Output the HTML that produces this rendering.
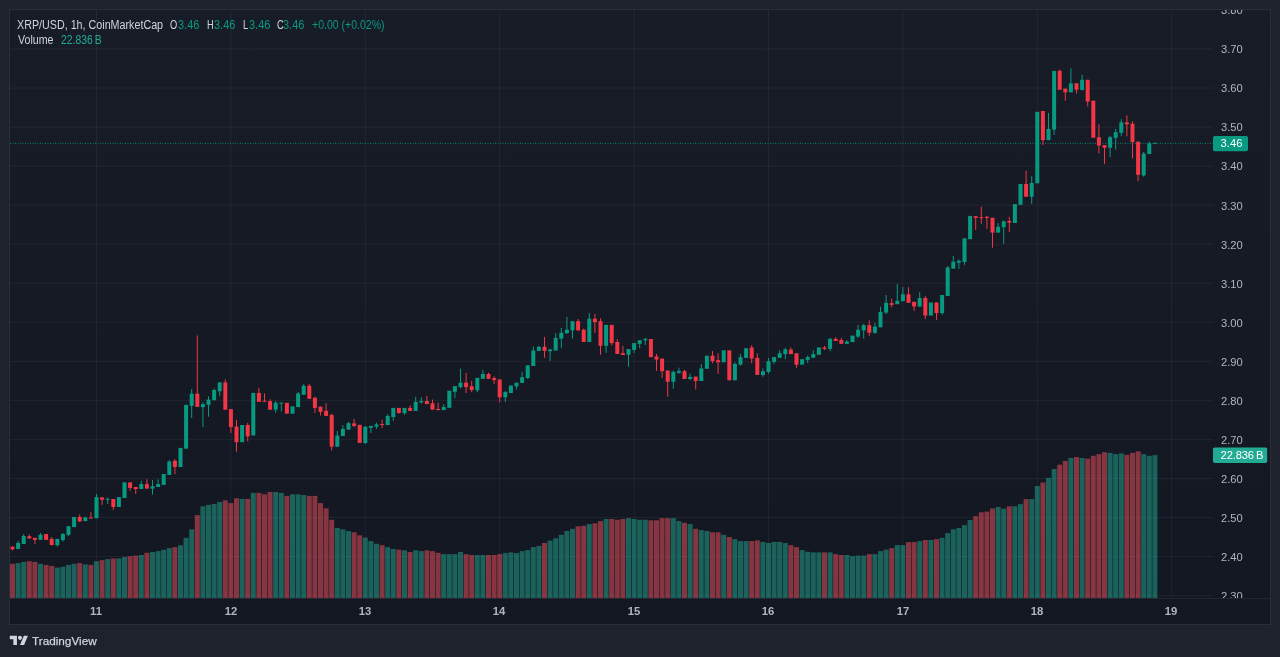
<!DOCTYPE html>
<html><head><meta charset="utf-8"><title>XRP/USD</title>
<style>
html,body{margin:0;padding:0;}
body{width:1280px;height:657px;overflow:hidden;background:#1e222d;font-family:"Liberation Sans",sans-serif;position:relative;}
#frame{position:absolute;left:9px;top:9px;width:1260px;height:614px;border:1px solid #2a2e39;background:linear-gradient(180deg,#181c27 0%,#131722 100%);}
#taxis{position:absolute;left:10px;top:598px;width:1260px;height:26px;border-top:1px solid rgba(240,243,250,0.07);box-sizing:border-box;}
svg{position:absolute;left:0;top:0;}
#paxis{position:absolute;left:1213px;top:10px;width:57px;height:588px;overflow:hidden;}
.pl,.tl,.tag,.lg,#logot{will-change:transform;}
.pl{position:absolute;left:7.7px;height:14px;line-height:14px;font-size:11.2px;color:#b2b5be;white-space:nowrap;}
.tl{position:absolute;top:604.4px;width:40px;text-align:center;height:14px;line-height:14px;font-size:11.3px;font-weight:bold;color:#b2b5be;white-space:nowrap;}
.tag{position:absolute;left:1213px;height:15.5px;line-height:15.6px;color:#fff;font-size:11.2px;border-radius:2px;white-space:nowrap;box-sizing:border-box;padding-left:7.6px;}
.lg{position:absolute;left:17px;height:14px;line-height:14px;font-size:12px;color:#d1d4dc;white-space:nowrap;}
.lg span{position:absolute;top:0;transform-origin:0 50%;}
.lg .k{transform:scaleX(0.773);}
.lg .n{transform:scaleX(0.915);}
.v{color:#089981;}
.v2{color:#22ab94;}
#logo{position:absolute;left:9.4px;top:633.8px;}
#logot{position:absolute;left:31.9px;top:634px;height:14px;line-height:14px;font-size:11.75px;color:#d1d4dc;white-space:nowrap;-webkit-text-stroke:0.25px #d1d4dc;}
</style></head><body>
<div id="frame"></div>
<div id="taxis"></div>
<svg width="1280" height="657" viewBox="0 0 1280 657">
<rect x="10" y="48.5" width="1203" height="1" fill="rgba(240,243,250,0.06)"/>
<rect x="10" y="87.54" width="1203" height="1" fill="rgba(240,243,250,0.06)"/>
<rect x="10" y="126.58" width="1203" height="1" fill="rgba(240,243,250,0.06)"/>
<rect x="10" y="165.62" width="1203" height="1" fill="rgba(240,243,250,0.06)"/>
<rect x="10" y="204.66" width="1203" height="1" fill="rgba(240,243,250,0.06)"/>
<rect x="10" y="243.7" width="1203" height="1" fill="rgba(240,243,250,0.06)"/>
<rect x="10" y="282.74" width="1203" height="1" fill="rgba(240,243,250,0.06)"/>
<rect x="10" y="321.78" width="1203" height="1" fill="rgba(240,243,250,0.06)"/>
<rect x="10" y="360.82" width="1203" height="1" fill="rgba(240,243,250,0.06)"/>
<rect x="10" y="399.86" width="1203" height="1" fill="rgba(240,243,250,0.06)"/>
<rect x="10" y="438.9" width="1203" height="1" fill="rgba(240,243,250,0.06)"/>
<rect x="10" y="477.94" width="1203" height="1" fill="rgba(240,243,250,0.06)"/>
<rect x="10" y="516.98" width="1203" height="1" fill="rgba(240,243,250,0.06)"/>
<rect x="10" y="556.02" width="1203" height="1" fill="rgba(240,243,250,0.06)"/>
<rect x="10" y="595.06" width="1203" height="1" fill="rgba(240,243,250,0.06)"/>
<rect x="96" y="10" width="1" height="588" fill="rgba(240,243,250,0.06)"/>
<rect x="230.4" y="10" width="1" height="588" fill="rgba(240,243,250,0.06)"/>
<rect x="364.8" y="10" width="1" height="588" fill="rgba(240,243,250,0.06)"/>
<rect x="499.2" y="10" width="1" height="588" fill="rgba(240,243,250,0.06)"/>
<rect x="633.6" y="10" width="1" height="588" fill="rgba(240,243,250,0.06)"/>
<rect x="768" y="10" width="1" height="588" fill="rgba(240,243,250,0.06)"/>
<rect x="902.4" y="10" width="1" height="588" fill="rgba(240,243,250,0.06)"/>
<rect x="1036.8" y="10" width="1" height="588" fill="rgba(240,243,250,0.06)"/>
<rect x="1171.2" y="10" width="1" height="588" fill="rgba(240,243,250,0.06)"/>
<rect x="10" y="563.8" width="5" height="34.2" fill="rgba(247,82,95,0.5)"/>
<rect x="15.6" y="563.1" width="5" height="34.9" fill="rgba(34,171,148,0.5)"/>
<rect x="21.2" y="561.9" width="5" height="36.1" fill="rgba(34,171,148,0.5)"/>
<rect x="26.8" y="561.2" width="5" height="36.8" fill="rgba(247,82,95,0.5)"/>
<rect x="32.4" y="561.9" width="5" height="36.1" fill="rgba(247,82,95,0.5)"/>
<rect x="38" y="563.8" width="5" height="34.2" fill="rgba(34,171,148,0.5)"/>
<rect x="43.6" y="564.9" width="5" height="33.1" fill="rgba(247,82,95,0.5)"/>
<rect x="49.2" y="565.9" width="5" height="32.1" fill="rgba(247,82,95,0.5)"/>
<rect x="54.8" y="567.6" width="5" height="30.4" fill="rgba(34,171,148,0.5)"/>
<rect x="60.4" y="566.8" width="5" height="31.2" fill="rgba(34,171,148,0.5)"/>
<rect x="66" y="564.9" width="5" height="33.1" fill="rgba(34,171,148,0.5)"/>
<rect x="71.6" y="563.8" width="5" height="34.2" fill="rgba(34,171,148,0.5)"/>
<rect x="77.2" y="563.1" width="5" height="34.9" fill="rgba(247,82,95,0.5)"/>
<rect x="82.8" y="564.4" width="5" height="33.6" fill="rgba(34,171,148,0.5)"/>
<rect x="88.4" y="564.9" width="5" height="33.1" fill="rgba(247,82,95,0.5)"/>
<rect x="94" y="561.2" width="5" height="36.8" fill="rgba(34,171,148,0.5)"/>
<rect x="99.6" y="560.1" width="5" height="37.9" fill="rgba(247,82,95,0.5)"/>
<rect x="105.2" y="559.1" width="5" height="38.9" fill="rgba(34,171,148,0.5)"/>
<rect x="110.8" y="558.4" width="5" height="39.6" fill="rgba(247,82,95,0.5)"/>
<rect x="116.4" y="558.4" width="5" height="39.6" fill="rgba(34,171,148,0.5)"/>
<rect x="122" y="556.9" width="5" height="41.1" fill="rgba(34,171,148,0.5)"/>
<rect x="127.6" y="556.1" width="5" height="41.9" fill="rgba(247,82,95,0.5)"/>
<rect x="133.2" y="555.6" width="5" height="42.4" fill="rgba(247,82,95,0.5)"/>
<rect x="138.8" y="555" width="5" height="43" fill="rgba(34,171,148,0.5)"/>
<rect x="144.4" y="552.8" width="5" height="45.2" fill="rgba(247,82,95,0.5)"/>
<rect x="150" y="552" width="5" height="46" fill="rgba(34,171,148,0.5)"/>
<rect x="155.6" y="551.1" width="5" height="46.9" fill="rgba(34,171,148,0.5)"/>
<rect x="161.2" y="549.8" width="5" height="48.2" fill="rgba(34,171,148,0.5)"/>
<rect x="166.8" y="548.1" width="5" height="49.9" fill="rgba(34,171,148,0.5)"/>
<rect x="172.4" y="547.1" width="5" height="50.9" fill="rgba(247,82,95,0.5)"/>
<rect x="178" y="545.3" width="5" height="52.7" fill="rgba(34,171,148,0.5)"/>
<rect x="183.6" y="537.8" width="5" height="60.2" fill="rgba(34,171,148,0.5)"/>
<rect x="189.2" y="529.3" width="5" height="68.7" fill="rgba(34,171,148,0.5)"/>
<rect x="194.8" y="515.1" width="5" height="82.9" fill="rgba(247,82,95,0.5)"/>
<rect x="200.4" y="506.3" width="5" height="91.7" fill="rgba(34,171,148,0.5)"/>
<rect x="206" y="504.9" width="5" height="93.1" fill="rgba(34,171,148,0.5)"/>
<rect x="211.6" y="504" width="5" height="94" fill="rgba(34,171,148,0.5)"/>
<rect x="217.2" y="501.9" width="5" height="96.1" fill="rgba(34,171,148,0.5)"/>
<rect x="222.8" y="500.3" width="5" height="97.7" fill="rgba(247,82,95,0.5)"/>
<rect x="228.4" y="503.1" width="5" height="94.9" fill="rgba(247,82,95,0.5)"/>
<rect x="234" y="498.2" width="5" height="99.8" fill="rgba(247,82,95,0.5)"/>
<rect x="239.6" y="498.9" width="5" height="99.1" fill="rgba(34,171,148,0.5)"/>
<rect x="245.2" y="498.9" width="5" height="99.1" fill="rgba(247,82,95,0.5)"/>
<rect x="250.8" y="492.9" width="5" height="105.1" fill="rgba(34,171,148,0.5)"/>
<rect x="256.4" y="492.9" width="5" height="105.1" fill="rgba(247,82,95,0.5)"/>
<rect x="262" y="494.3" width="5" height="103.7" fill="rgba(247,82,95,0.5)"/>
<rect x="267.6" y="492" width="5" height="106" fill="rgba(247,82,95,0.5)"/>
<rect x="273.2" y="492" width="5" height="106" fill="rgba(34,171,148,0.5)"/>
<rect x="278.8" y="492.9" width="5" height="105.1" fill="rgba(34,171,148,0.5)"/>
<rect x="284.4" y="495.9" width="5" height="102.1" fill="rgba(247,82,95,0.5)"/>
<rect x="290" y="494.3" width="5" height="103.7" fill="rgba(34,171,148,0.5)"/>
<rect x="295.6" y="494.3" width="5" height="103.7" fill="rgba(34,171,148,0.5)"/>
<rect x="301.2" y="495" width="5" height="103" fill="rgba(34,171,148,0.5)"/>
<rect x="306.8" y="495.9" width="5" height="102.1" fill="rgba(247,82,95,0.5)"/>
<rect x="312.4" y="495.9" width="5" height="102.1" fill="rgba(247,82,95,0.5)"/>
<rect x="318" y="503.1" width="5" height="94.9" fill="rgba(247,82,95,0.5)"/>
<rect x="323.6" y="508.3" width="5" height="89.7" fill="rgba(247,82,95,0.5)"/>
<rect x="329.2" y="519.8" width="5" height="78.2" fill="rgba(247,82,95,0.5)"/>
<rect x="334.8" y="528" width="5" height="70" fill="rgba(34,171,148,0.5)"/>
<rect x="340.4" y="529.3" width="5" height="68.7" fill="rgba(34,171,148,0.5)"/>
<rect x="346" y="531" width="5" height="67" fill="rgba(34,171,148,0.5)"/>
<rect x="351.6" y="532.3" width="5" height="65.7" fill="rgba(247,82,95,0.5)"/>
<rect x="357.2" y="535.3" width="5" height="62.7" fill="rgba(247,82,95,0.5)"/>
<rect x="362.8" y="537.6" width="5" height="60.4" fill="rgba(34,171,148,0.5)"/>
<rect x="368.4" y="541.1" width="5" height="56.9" fill="rgba(34,171,148,0.5)"/>
<rect x="374" y="543.8" width="5" height="54.2" fill="rgba(34,171,148,0.5)"/>
<rect x="379.6" y="545.1" width="5" height="52.9" fill="rgba(247,82,95,0.5)"/>
<rect x="385.2" y="547.1" width="5" height="50.9" fill="rgba(34,171,148,0.5)"/>
<rect x="390.8" y="549" width="5" height="49" fill="rgba(34,171,148,0.5)"/>
<rect x="396.4" y="549.6" width="5" height="48.4" fill="rgba(247,82,95,0.5)"/>
<rect x="402" y="550.3" width="5" height="47.7" fill="rgba(34,171,148,0.5)"/>
<rect x="407.6" y="552" width="5" height="46" fill="rgba(247,82,95,0.5)"/>
<rect x="413.2" y="550.3" width="5" height="47.7" fill="rgba(34,171,148,0.5)"/>
<rect x="418.8" y="551.1" width="5" height="46.9" fill="rgba(34,171,148,0.5)"/>
<rect x="424.4" y="550.3" width="5" height="47.7" fill="rgba(247,82,95,0.5)"/>
<rect x="430" y="551.1" width="5" height="46.9" fill="rgba(247,82,95,0.5)"/>
<rect x="435.6" y="552.8" width="5" height="45.2" fill="rgba(247,82,95,0.5)"/>
<rect x="441.2" y="554.1" width="5" height="43.9" fill="rgba(34,171,148,0.5)"/>
<rect x="446.8" y="554.1" width="5" height="43.9" fill="rgba(34,171,148,0.5)"/>
<rect x="452.4" y="554.1" width="5" height="43.9" fill="rgba(34,171,148,0.5)"/>
<rect x="458" y="552" width="5" height="46" fill="rgba(34,171,148,0.5)"/>
<rect x="463.6" y="554.1" width="5" height="43.9" fill="rgba(247,82,95,0.5)"/>
<rect x="469.2" y="555" width="5" height="43" fill="rgba(247,82,95,0.5)"/>
<rect x="474.8" y="555" width="5" height="43" fill="rgba(34,171,148,0.5)"/>
<rect x="480.4" y="555" width="5" height="43" fill="rgba(34,171,148,0.5)"/>
<rect x="486" y="555" width="5" height="43" fill="rgba(247,82,95,0.5)"/>
<rect x="491.6" y="555" width="5" height="43" fill="rgba(247,82,95,0.5)"/>
<rect x="497.2" y="554.1" width="5" height="43.9" fill="rgba(247,82,95,0.5)"/>
<rect x="502.8" y="553.1" width="5" height="44.9" fill="rgba(34,171,148,0.5)"/>
<rect x="508.4" y="552.4" width="5" height="45.6" fill="rgba(34,171,148,0.5)"/>
<rect x="514" y="553.1" width="5" height="44.9" fill="rgba(34,171,148,0.5)"/>
<rect x="519.6" y="551.1" width="5" height="46.9" fill="rgba(34,171,148,0.5)"/>
<rect x="525.2" y="550.1" width="5" height="47.9" fill="rgba(34,171,148,0.5)"/>
<rect x="530.8" y="547.1" width="5" height="50.9" fill="rgba(34,171,148,0.5)"/>
<rect x="536.4" y="546" width="5" height="52" fill="rgba(34,171,148,0.5)"/>
<rect x="542" y="543" width="5" height="55" fill="rgba(247,82,95,0.5)"/>
<rect x="547.6" y="540.6" width="5" height="57.4" fill="rgba(34,171,148,0.5)"/>
<rect x="553.2" y="538.3" width="5" height="59.7" fill="rgba(34,171,148,0.5)"/>
<rect x="558.8" y="534.8" width="5" height="63.2" fill="rgba(34,171,148,0.5)"/>
<rect x="564.4" y="531" width="5" height="67" fill="rgba(34,171,148,0.5)"/>
<rect x="570" y="528.8" width="5" height="69.2" fill="rgba(34,171,148,0.5)"/>
<rect x="575.6" y="526.3" width="5" height="71.7" fill="rgba(247,82,95,0.5)"/>
<rect x="581.2" y="525.8" width="5" height="72.2" fill="rgba(247,82,95,0.5)"/>
<rect x="586.8" y="524.1" width="5" height="73.9" fill="rgba(34,171,148,0.5)"/>
<rect x="592.4" y="523.3" width="5" height="74.7" fill="rgba(247,82,95,0.5)"/>
<rect x="598" y="521.1" width="5" height="76.9" fill="rgba(247,82,95,0.5)"/>
<rect x="603.6" y="519" width="5" height="79" fill="rgba(34,171,148,0.5)"/>
<rect x="609.2" y="519" width="5" height="79" fill="rgba(247,82,95,0.5)"/>
<rect x="614.8" y="519.8" width="5" height="78.2" fill="rgba(247,82,95,0.5)"/>
<rect x="620.4" y="519" width="5" height="79" fill="rgba(247,82,95,0.5)"/>
<rect x="626" y="518.1" width="5" height="79.9" fill="rgba(34,171,148,0.5)"/>
<rect x="631.6" y="519" width="5" height="79" fill="rgba(34,171,148,0.5)"/>
<rect x="637.2" y="519.8" width="5" height="78.2" fill="rgba(34,171,148,0.5)"/>
<rect x="642.8" y="519.8" width="5" height="78.2" fill="rgba(34,171,148,0.5)"/>
<rect x="648.4" y="520.3" width="5" height="77.7" fill="rgba(247,82,95,0.5)"/>
<rect x="654" y="520.3" width="5" height="77.7" fill="rgba(247,82,95,0.5)"/>
<rect x="659.6" y="518.1" width="5" height="79.9" fill="rgba(247,82,95,0.5)"/>
<rect x="665.2" y="518.1" width="5" height="79.9" fill="rgba(247,82,95,0.5)"/>
<rect x="670.8" y="518.1" width="5" height="79.9" fill="rgba(34,171,148,0.5)"/>
<rect x="676.4" y="521.1" width="5" height="76.9" fill="rgba(34,171,148,0.5)"/>
<rect x="682" y="522.8" width="5" height="75.2" fill="rgba(247,82,95,0.5)"/>
<rect x="687.6" y="524.1" width="5" height="73.9" fill="rgba(34,171,148,0.5)"/>
<rect x="693.2" y="528.8" width="5" height="69.2" fill="rgba(247,82,95,0.5)"/>
<rect x="698.8" y="530.1" width="5" height="67.9" fill="rgba(34,171,148,0.5)"/>
<rect x="704.4" y="531" width="5" height="67" fill="rgba(34,171,148,0.5)"/>
<rect x="710" y="532.3" width="5" height="65.7" fill="rgba(247,82,95,0.5)"/>
<rect x="715.6" y="532.3" width="5" height="65.7" fill="rgba(247,82,95,0.5)"/>
<rect x="721.2" y="534.8" width="5" height="63.2" fill="rgba(34,171,148,0.5)"/>
<rect x="726.8" y="537" width="5" height="61" fill="rgba(247,82,95,0.5)"/>
<rect x="732.4" y="539.1" width="5" height="58.9" fill="rgba(34,171,148,0.5)"/>
<rect x="738" y="541.1" width="5" height="56.9" fill="rgba(34,171,148,0.5)"/>
<rect x="743.6" y="541.1" width="5" height="56.9" fill="rgba(34,171,148,0.5)"/>
<rect x="749.2" y="541.1" width="5" height="56.9" fill="rgba(247,82,95,0.5)"/>
<rect x="754.8" y="540.4" width="5" height="57.6" fill="rgba(247,82,95,0.5)"/>
<rect x="760.4" y="541.9" width="5" height="56.1" fill="rgba(34,171,148,0.5)"/>
<rect x="766" y="543" width="5" height="55" fill="rgba(34,171,148,0.5)"/>
<rect x="771.6" y="541.9" width="5" height="56.1" fill="rgba(34,171,148,0.5)"/>
<rect x="777.2" y="541.9" width="5" height="56.1" fill="rgba(34,171,148,0.5)"/>
<rect x="782.8" y="543" width="5" height="55" fill="rgba(34,171,148,0.5)"/>
<rect x="788.4" y="545.1" width="5" height="52.9" fill="rgba(247,82,95,0.5)"/>
<rect x="794" y="547.1" width="5" height="50.9" fill="rgba(247,82,95,0.5)"/>
<rect x="799.6" y="550.1" width="5" height="47.9" fill="rgba(34,171,148,0.5)"/>
<rect x="805.2" y="551.8" width="5" height="46.2" fill="rgba(34,171,148,0.5)"/>
<rect x="810.8" y="552.4" width="5" height="45.6" fill="rgba(34,171,148,0.5)"/>
<rect x="816.4" y="552.4" width="5" height="45.6" fill="rgba(34,171,148,0.5)"/>
<rect x="822" y="552.4" width="5" height="45.6" fill="rgba(247,82,95,0.5)"/>
<rect x="827.6" y="552.4" width="5" height="45.6" fill="rgba(34,171,148,0.5)"/>
<rect x="833.2" y="554.1" width="5" height="43.9" fill="rgba(247,82,95,0.5)"/>
<rect x="838.8" y="555" width="5" height="43" fill="rgba(247,82,95,0.5)"/>
<rect x="844.4" y="555" width="5" height="43" fill="rgba(34,171,148,0.5)"/>
<rect x="850" y="556.1" width="5" height="41.9" fill="rgba(34,171,148,0.5)"/>
<rect x="855.6" y="555.6" width="5" height="42.4" fill="rgba(34,171,148,0.5)"/>
<rect x="861.2" y="555.6" width="5" height="42.4" fill="rgba(34,171,148,0.5)"/>
<rect x="866.8" y="554.1" width="5" height="43.9" fill="rgba(247,82,95,0.5)"/>
<rect x="872.4" y="554.1" width="5" height="43.9" fill="rgba(34,171,148,0.5)"/>
<rect x="878" y="551.1" width="5" height="46.9" fill="rgba(34,171,148,0.5)"/>
<rect x="883.6" y="549.6" width="5" height="48.4" fill="rgba(34,171,148,0.5)"/>
<rect x="889.2" y="548.1" width="5" height="49.9" fill="rgba(247,82,95,0.5)"/>
<rect x="894.8" y="545.1" width="5" height="52.9" fill="rgba(34,171,148,0.5)"/>
<rect x="900.4" y="545.1" width="5" height="52.9" fill="rgba(34,171,148,0.5)"/>
<rect x="906" y="542.1" width="5" height="55.9" fill="rgba(247,82,95,0.5)"/>
<rect x="911.6" y="542.1" width="5" height="55.9" fill="rgba(247,82,95,0.5)"/>
<rect x="917.2" y="541.1" width="5" height="56.9" fill="rgba(34,171,148,0.5)"/>
<rect x="922.8" y="540" width="5" height="58" fill="rgba(247,82,95,0.5)"/>
<rect x="928.4" y="540" width="5" height="58" fill="rgba(34,171,148,0.5)"/>
<rect x="934" y="539.1" width="5" height="58.9" fill="rgba(247,82,95,0.5)"/>
<rect x="939.6" y="537.8" width="5" height="60.2" fill="rgba(34,171,148,0.5)"/>
<rect x="945.2" y="533.1" width="5" height="64.9" fill="rgba(34,171,148,0.5)"/>
<rect x="950.8" y="529.3" width="5" height="68.7" fill="rgba(34,171,148,0.5)"/>
<rect x="956.4" y="528" width="5" height="70" fill="rgba(34,171,148,0.5)"/>
<rect x="962" y="525.1" width="5" height="72.9" fill="rgba(34,171,148,0.5)"/>
<rect x="967.6" y="520" width="5" height="78" fill="rgba(34,171,148,0.5)"/>
<rect x="973.2" y="516.2" width="5" height="81.8" fill="rgba(247,82,95,0.5)"/>
<rect x="978.8" y="512.3" width="5" height="85.7" fill="rgba(247,82,95,0.5)"/>
<rect x="984.4" y="511.6" width="5" height="86.4" fill="rgba(247,82,95,0.5)"/>
<rect x="990" y="508.5" width="5" height="89.5" fill="rgba(247,82,95,0.5)"/>
<rect x="995.6" y="507" width="5" height="91" fill="rgba(34,171,148,0.5)"/>
<rect x="1001.2" y="508.7" width="5" height="89.3" fill="rgba(34,171,148,0.5)"/>
<rect x="1006.8" y="506.3" width="5" height="91.7" fill="rgba(247,82,95,0.5)"/>
<rect x="1012.4" y="506.3" width="5" height="91.7" fill="rgba(34,171,148,0.5)"/>
<rect x="1018" y="504.1" width="5" height="93.9" fill="rgba(34,171,148,0.5)"/>
<rect x="1023.6" y="499.1" width="5" height="98.9" fill="rgba(247,82,95,0.5)"/>
<rect x="1029.2" y="499.1" width="5" height="98.9" fill="rgba(34,171,148,0.5)"/>
<rect x="1034.8" y="486.1" width="5" height="111.9" fill="rgba(34,171,148,0.5)"/>
<rect x="1040.4" y="482.5" width="5" height="115.5" fill="rgba(247,82,95,0.5)"/>
<rect x="1046" y="477.9" width="5" height="120.1" fill="rgba(34,171,148,0.5)"/>
<rect x="1051.6" y="469" width="5" height="129" fill="rgba(34,171,148,0.5)"/>
<rect x="1057.2" y="464.7" width="5" height="133.3" fill="rgba(247,82,95,0.5)"/>
<rect x="1062.8" y="460.9" width="5" height="137.1" fill="rgba(247,82,95,0.5)"/>
<rect x="1068.4" y="458" width="5" height="140" fill="rgba(34,171,148,0.5)"/>
<rect x="1074" y="457" width="5" height="141" fill="rgba(247,82,95,0.5)"/>
<rect x="1079.6" y="458" width="5" height="140" fill="rgba(34,171,148,0.5)"/>
<rect x="1085.2" y="458.7" width="5" height="139.3" fill="rgba(247,82,95,0.5)"/>
<rect x="1090.8" y="455.8" width="5" height="142.2" fill="rgba(247,82,95,0.5)"/>
<rect x="1096.4" y="454.1" width="5" height="143.9" fill="rgba(247,82,95,0.5)"/>
<rect x="1102" y="452.2" width="5" height="145.8" fill="rgba(247,82,95,0.5)"/>
<rect x="1107.6" y="452.9" width="5" height="145.1" fill="rgba(34,171,148,0.5)"/>
<rect x="1113.2" y="454.1" width="5" height="143.9" fill="rgba(34,171,148,0.5)"/>
<rect x="1118.8" y="453.4" width="5" height="144.6" fill="rgba(34,171,148,0.5)"/>
<rect x="1124.4" y="454.9" width="5" height="143.1" fill="rgba(247,82,95,0.5)"/>
<rect x="1130" y="452.9" width="5" height="145.1" fill="rgba(247,82,95,0.5)"/>
<rect x="1135.6" y="451.3" width="5" height="146.7" fill="rgba(247,82,95,0.5)"/>
<rect x="1141.2" y="454.1" width="5" height="143.9" fill="rgba(34,171,148,0.5)"/>
<rect x="1146.8" y="455.8" width="5" height="142.2" fill="rgba(34,171,148,0.5)"/>
<rect x="1152.4" y="455.1" width="5" height="142.9" fill="rgba(34,171,148,0.5)"/>
<line x1="10" y1="143.3" x2="1213" y2="143.3" stroke="#089981" stroke-width="1" stroke-dasharray="1 1.5" opacity="0.85"/>
<rect x="12" y="546.7" width="1" height="3.8" fill="#f23645"/>
<rect x="10.5" y="546.7" width="4" height="2.5" fill="#f23645"/>
<rect x="17.6" y="540.8" width="1" height="8.2" fill="#089981"/>
<rect x="16.1" y="543" width="4" height="6" fill="#089981"/>
<rect x="23.2" y="534.1" width="1" height="9.9" fill="#089981"/>
<rect x="21.7" y="536" width="4" height="8" fill="#089981"/>
<rect x="28.8" y="534.4" width="1" height="4.1" fill="#f23645"/>
<rect x="27.3" y="536.2" width="4" height="2.3" fill="#f23645"/>
<rect x="34.4" y="537.8" width="1" height="6.2" fill="#f23645"/>
<rect x="32.9" y="537.8" width="4" height="2.1" fill="#f23645"/>
<rect x="40" y="533" width="1" height="6.9" fill="#089981"/>
<rect x="38.5" y="534.7" width="4" height="5.2" fill="#089981"/>
<rect x="44.1" y="534" width="4" height="5.9" fill="#f23645"/>
<rect x="51.2" y="537.1" width="1" height="8" fill="#f23645"/>
<rect x="49.7" y="538.9" width="4" height="6.2" fill="#f23645"/>
<rect x="56.8" y="538.9" width="1" height="7.8" fill="#089981"/>
<rect x="55.3" y="538.9" width="4" height="6.2" fill="#089981"/>
<rect x="62.4" y="533" width="1" height="8.5" fill="#089981"/>
<rect x="60.9" y="534" width="4" height="6.1" fill="#089981"/>
<rect x="68" y="526.2" width="1" height="10" fill="#089981"/>
<rect x="66.5" y="526.2" width="4" height="8.6" fill="#089981"/>
<rect x="72.1" y="517" width="4" height="10.1" fill="#089981"/>
<rect x="79.2" y="514.5" width="1" height="7.5" fill="#f23645"/>
<rect x="77.7" y="517" width="4" height="4.4" fill="#f23645"/>
<rect x="84.8" y="516.6" width="1" height="4.5" fill="#089981"/>
<rect x="83.3" y="517.5" width="4" height="3.6" fill="#089981"/>
<rect x="90.4" y="512.2" width="1" height="6.2" fill="#f23645"/>
<rect x="88.9" y="517.5" width="4" height="1" fill="#f23645"/>
<rect x="96" y="494" width="1" height="24.2" fill="#089981"/>
<rect x="94.5" y="497.1" width="4" height="21.1" fill="#089981"/>
<rect x="101.6" y="497.4" width="1" height="7.5" fill="#f23645"/>
<rect x="100.1" y="497.4" width="4" height="2.3" fill="#f23645"/>
<rect x="107.2" y="497.4" width="1" height="6.6" fill="#089981"/>
<rect x="105.7" y="498.8" width="4" height="1" fill="#089981"/>
<rect x="112.8" y="499" width="1" height="11" fill="#f23645"/>
<rect x="111.3" y="499" width="4" height="8" fill="#f23645"/>
<rect x="116.9" y="497.1" width="4" height="9.9" fill="#089981"/>
<rect x="122.5" y="482.3" width="4" height="15.7" fill="#089981"/>
<rect x="129.6" y="482.4" width="1" height="8.3" fill="#f23645"/>
<rect x="128.1" y="482.4" width="4" height="5.5" fill="#f23645"/>
<rect x="135.2" y="487" width="1" height="6.9" fill="#f23645"/>
<rect x="133.7" y="487" width="4" height="2.1" fill="#f23645"/>
<rect x="140.8" y="480.8" width="1" height="8.2" fill="#089981"/>
<rect x="139.3" y="484.1" width="4" height="4.9" fill="#089981"/>
<rect x="146.4" y="479.3" width="1" height="9.3" fill="#f23645"/>
<rect x="144.9" y="484.1" width="4" height="4.5" fill="#f23645"/>
<rect x="152" y="480" width="1" height="14.5" fill="#089981"/>
<rect x="150.5" y="486.3" width="4" height="2.3" fill="#089981"/>
<rect x="157.6" y="479.3" width="1" height="7.7" fill="#089981"/>
<rect x="156.1" y="484.1" width="4" height="2.9" fill="#089981"/>
<rect x="161.7" y="474" width="4" height="10.9" fill="#089981"/>
<rect x="168.8" y="460.1" width="1" height="14.8" fill="#089981"/>
<rect x="167.3" y="461.6" width="4" height="13.3" fill="#089981"/>
<rect x="174.4" y="459.2" width="1" height="15" fill="#f23645"/>
<rect x="172.9" y="460.8" width="4" height="6.2" fill="#f23645"/>
<rect x="178.5" y="447.9" width="4" height="19.1" fill="#089981"/>
<rect x="184.1" y="404.8" width="4" height="43.9" fill="#089981"/>
<rect x="191.2" y="389" width="1" height="29" fill="#089981"/>
<rect x="189.7" y="393.7" width="4" height="12.1" fill="#089981"/>
<rect x="196.8" y="335.5" width="1" height="71.3" fill="#f23645"/>
<rect x="195.3" y="393.7" width="4" height="13.1" fill="#f23645"/>
<rect x="202.4" y="402.2" width="1" height="24.8" fill="#089981"/>
<rect x="200.9" y="404.2" width="4" height="3" fill="#089981"/>
<rect x="208" y="396.3" width="1" height="20.4" fill="#089981"/>
<rect x="206.5" y="399.6" width="4" height="5.2" fill="#089981"/>
<rect x="213.6" y="388.4" width="1" height="11.8" fill="#089981"/>
<rect x="212.1" y="390" width="4" height="10.2" fill="#089981"/>
<rect x="219.2" y="382.4" width="1" height="13.9" fill="#089981"/>
<rect x="217.7" y="382.4" width="4" height="8.9" fill="#089981"/>
<rect x="224.8" y="379.5" width="1" height="30.2" fill="#f23645"/>
<rect x="223.3" y="382.4" width="4" height="27.3" fill="#f23645"/>
<rect x="230.4" y="409.1" width="1" height="23.8" fill="#f23645"/>
<rect x="228.9" y="409.1" width="4" height="17.9" fill="#f23645"/>
<rect x="236" y="420" width="1" height="31.7" fill="#f23645"/>
<rect x="234.5" y="426.6" width="4" height="15.6" fill="#f23645"/>
<rect x="240.1" y="425" width="4" height="17.2" fill="#089981"/>
<rect x="247.2" y="423" width="1" height="18.4" fill="#f23645"/>
<rect x="245.7" y="425" width="4" height="11.3" fill="#f23645"/>
<rect x="251.3" y="392.9" width="4" height="42.6" fill="#089981"/>
<rect x="258.4" y="387.8" width="1" height="14" fill="#f23645"/>
<rect x="256.9" y="392.9" width="4" height="8.9" fill="#f23645"/>
<rect x="264" y="393.3" width="1" height="8.3" fill="#f23645"/>
<rect x="262.5" y="400.8" width="4" height="1" fill="#f23645"/>
<rect x="269.6" y="399.3" width="1" height="10.4" fill="#f23645"/>
<rect x="268.1" y="401.2" width="4" height="8.5" fill="#f23645"/>
<rect x="275.2" y="400.8" width="1" height="11.9" fill="#089981"/>
<rect x="273.7" y="402.8" width="4" height="6.9" fill="#089981"/>
<rect x="280.8" y="402.6" width="1" height="8.9" fill="#089981"/>
<rect x="279.3" y="402.6" width="4" height="1" fill="#089981"/>
<rect x="284.9" y="402.8" width="4" height="10.9" fill="#f23645"/>
<rect x="290.5" y="406.4" width="4" height="7.3" fill="#089981"/>
<rect x="297.6" y="392" width="1" height="15.1" fill="#089981"/>
<rect x="296.1" y="393.5" width="4" height="13.6" fill="#089981"/>
<rect x="303.2" y="384.1" width="1" height="10.6" fill="#089981"/>
<rect x="301.7" y="385.8" width="4" height="8.9" fill="#089981"/>
<rect x="308.8" y="384" width="1" height="14.8" fill="#f23645"/>
<rect x="307.3" y="385.8" width="4" height="13" fill="#f23645"/>
<rect x="314.4" y="396.7" width="1" height="16.2" fill="#f23645"/>
<rect x="312.9" y="397.8" width="4" height="10.1" fill="#f23645"/>
<rect x="320" y="406.7" width="1" height="8.8" fill="#f23645"/>
<rect x="318.5" y="406.7" width="4" height="5.1" fill="#f23645"/>
<rect x="325.6" y="403.2" width="1" height="12.7" fill="#f23645"/>
<rect x="324.1" y="410.8" width="4" height="5.1" fill="#f23645"/>
<rect x="331.2" y="413.8" width="1" height="36.7" fill="#f23645"/>
<rect x="329.7" y="414.9" width="4" height="31.8" fill="#f23645"/>
<rect x="336.8" y="431" width="1" height="15.7" fill="#089981"/>
<rect x="335.3" y="435.5" width="4" height="11.2" fill="#089981"/>
<rect x="342.4" y="425.1" width="1" height="10.9" fill="#089981"/>
<rect x="340.9" y="428.9" width="4" height="7.1" fill="#089981"/>
<rect x="348" y="421.8" width="1" height="7.8" fill="#089981"/>
<rect x="346.5" y="423.2" width="4" height="6.4" fill="#089981"/>
<rect x="353.6" y="418.9" width="1" height="8.4" fill="#f23645"/>
<rect x="352.1" y="423.4" width="4" height="2.5" fill="#f23645"/>
<rect x="357.7" y="424.8" width="4" height="18.1" fill="#f23645"/>
<rect x="364.8" y="425.9" width="1" height="18.1" fill="#089981"/>
<rect x="363.3" y="426.8" width="4" height="16.2" fill="#089981"/>
<rect x="370.4" y="425.9" width="1" height="7.1" fill="#089981"/>
<rect x="368.9" y="425.9" width="4" height="1.9" fill="#089981"/>
<rect x="376" y="422.7" width="1" height="6.2" fill="#089981"/>
<rect x="374.5" y="424.4" width="4" height="2.2" fill="#089981"/>
<rect x="381.6" y="419.7" width="1" height="8.5" fill="#f23645"/>
<rect x="380.1" y="424.1" width="4" height="1" fill="#f23645"/>
<rect x="387.2" y="414.2" width="1" height="10.9" fill="#089981"/>
<rect x="385.7" y="415.9" width="4" height="9.2" fill="#089981"/>
<rect x="392.8" y="407.9" width="1" height="13.1" fill="#089981"/>
<rect x="391.3" y="407.9" width="4" height="9.1" fill="#089981"/>
<rect x="398.4" y="407.9" width="1" height="5.9" fill="#f23645"/>
<rect x="396.9" y="407.9" width="4" height="5" fill="#f23645"/>
<rect x="404" y="407.9" width="1" height="7" fill="#089981"/>
<rect x="402.5" y="407.9" width="4" height="5.3" fill="#089981"/>
<rect x="409.6" y="405.5" width="1" height="5.4" fill="#f23645"/>
<rect x="408.1" y="407.9" width="4" height="3" fill="#f23645"/>
<rect x="415.2" y="396.8" width="1" height="14.1" fill="#089981"/>
<rect x="413.7" y="401.9" width="4" height="9" fill="#089981"/>
<rect x="420.8" y="397.3" width="1" height="6.4" fill="#089981"/>
<rect x="419.3" y="401" width="4" height="1.3" fill="#089981"/>
<rect x="426.4" y="395.9" width="1" height="8.2" fill="#f23645"/>
<rect x="424.9" y="401" width="4" height="3.1" fill="#f23645"/>
<rect x="432" y="399.6" width="1" height="10" fill="#f23645"/>
<rect x="430.5" y="403.3" width="4" height="6.3" fill="#f23645"/>
<rect x="437.6" y="402.7" width="1" height="7.4" fill="#f23645"/>
<rect x="436.1" y="408.9" width="4" height="1.2" fill="#f23645"/>
<rect x="443.2" y="404.1" width="1" height="6" fill="#089981"/>
<rect x="441.7" y="407.1" width="4" height="3" fill="#089981"/>
<rect x="447.3" y="390.7" width="4" height="17.1" fill="#089981"/>
<rect x="454.4" y="386.2" width="1" height="12" fill="#089981"/>
<rect x="452.9" y="386.2" width="4" height="5.6" fill="#089981"/>
<rect x="460" y="368.8" width="1" height="19.8" fill="#089981"/>
<rect x="458.5" y="382.7" width="4" height="4.3" fill="#089981"/>
<rect x="465.6" y="372.9" width="1" height="20.1" fill="#f23645"/>
<rect x="464.1" y="382.7" width="4" height="4.3" fill="#f23645"/>
<rect x="471.2" y="380.8" width="1" height="11.3" fill="#f23645"/>
<rect x="469.7" y="386.2" width="4" height="3.8" fill="#f23645"/>
<rect x="476.8" y="377.9" width="1" height="14.4" fill="#089981"/>
<rect x="475.3" y="377.9" width="4" height="12.4" fill="#089981"/>
<rect x="482.4" y="369.9" width="1" height="8.9" fill="#089981"/>
<rect x="480.9" y="374" width="4" height="4.8" fill="#089981"/>
<rect x="488" y="372.6" width="1" height="6.2" fill="#f23645"/>
<rect x="486.5" y="374" width="4" height="4.8" fill="#f23645"/>
<rect x="493.6" y="376.3" width="1" height="7.8" fill="#f23645"/>
<rect x="492.1" y="378.1" width="4" height="2" fill="#f23645"/>
<rect x="499.2" y="379.5" width="1" height="22.8" fill="#f23645"/>
<rect x="497.7" y="379.5" width="4" height="17.8" fill="#f23645"/>
<rect x="504.8" y="391" width="1" height="11.1" fill="#089981"/>
<rect x="503.3" y="392.1" width="4" height="5.2" fill="#089981"/>
<rect x="508.9" y="385.5" width="4" height="7.5" fill="#089981"/>
<rect x="516" y="382.7" width="1" height="6.6" fill="#089981"/>
<rect x="514.5" y="382.7" width="4" height="3.6" fill="#089981"/>
<rect x="521.6" y="371.9" width="1" height="11" fill="#089981"/>
<rect x="520.1" y="377.3" width="4" height="5.6" fill="#089981"/>
<rect x="527.2" y="365.3" width="1" height="13.7" fill="#089981"/>
<rect x="525.7" y="365.3" width="4" height="12.7" fill="#089981"/>
<rect x="532.8" y="346.7" width="1" height="19.3" fill="#089981"/>
<rect x="531.3" y="350.6" width="4" height="15.4" fill="#089981"/>
<rect x="538.4" y="345.8" width="1" height="5.1" fill="#089981"/>
<rect x="536.9" y="346.8" width="4" height="4.1" fill="#089981"/>
<rect x="544" y="336.9" width="1" height="20.8" fill="#f23645"/>
<rect x="542.5" y="346.8" width="4" height="4.1" fill="#f23645"/>
<rect x="549.6" y="348.8" width="1" height="12.1" fill="#089981"/>
<rect x="548.1" y="349.5" width="4" height="1.7" fill="#089981"/>
<rect x="555.2" y="333.1" width="1" height="17.4" fill="#089981"/>
<rect x="553.7" y="337.9" width="4" height="12.6" fill="#089981"/>
<rect x="560.8" y="328" width="1" height="20.2" fill="#089981"/>
<rect x="559.3" y="332.8" width="4" height="5.8" fill="#089981"/>
<rect x="566.4" y="316.9" width="1" height="17.1" fill="#089981"/>
<rect x="564.9" y="329.7" width="4" height="3.4" fill="#089981"/>
<rect x="572" y="321.2" width="1" height="17.4" fill="#089981"/>
<rect x="570.5" y="321.2" width="4" height="9.1" fill="#089981"/>
<rect x="577.6" y="319" width="1" height="12" fill="#f23645"/>
<rect x="576.1" y="321.2" width="4" height="9.1" fill="#f23645"/>
<rect x="583.2" y="328.6" width="1" height="13.4" fill="#f23645"/>
<rect x="581.7" y="329.7" width="4" height="12.3" fill="#f23645"/>
<rect x="588.8" y="312.9" width="1" height="29.1" fill="#089981"/>
<rect x="587.3" y="318.7" width="4" height="23.3" fill="#089981"/>
<rect x="594.4" y="313.9" width="1" height="18.9" fill="#f23645"/>
<rect x="592.9" y="318.7" width="4" height="3.4" fill="#f23645"/>
<rect x="600" y="318.3" width="1" height="36.4" fill="#f23645"/>
<rect x="598.5" y="321.2" width="4" height="24.6" fill="#f23645"/>
<rect x="605.6" y="324.9" width="1" height="27.8" fill="#089981"/>
<rect x="604.1" y="324.9" width="4" height="20.9" fill="#089981"/>
<rect x="611.2" y="324.9" width="1" height="20.2" fill="#f23645"/>
<rect x="609.7" y="324.9" width="4" height="18.2" fill="#f23645"/>
<rect x="616.8" y="339.2" width="1" height="14.8" fill="#f23645"/>
<rect x="615.3" y="342" width="4" height="12" fill="#f23645"/>
<rect x="622.4" y="345.8" width="1" height="9.2" fill="#f23645"/>
<rect x="620.9" y="353.2" width="4" height="1.8" fill="#f23645"/>
<rect x="628" y="349.1" width="1" height="17.8" fill="#089981"/>
<rect x="626.5" y="349.1" width="4" height="5.6" fill="#089981"/>
<rect x="633.6" y="343.1" width="1" height="9.8" fill="#089981"/>
<rect x="632.1" y="343.1" width="4" height="6.8" fill="#089981"/>
<rect x="639.2" y="340.2" width="1" height="8" fill="#089981"/>
<rect x="637.7" y="340.2" width="4" height="3.6" fill="#089981"/>
<rect x="644.8" y="337.9" width="1" height="7.2" fill="#089981"/>
<rect x="643.3" y="338.9" width="4" height="1.4" fill="#089981"/>
<rect x="648.9" y="339" width="4" height="18.2" fill="#f23645"/>
<rect x="656" y="354" width="1" height="16.9" fill="#f23645"/>
<rect x="654.5" y="356.5" width="4" height="3" fill="#f23645"/>
<rect x="661.6" y="358.6" width="1" height="19.4" fill="#f23645"/>
<rect x="660.1" y="358.6" width="4" height="12.6" fill="#f23645"/>
<rect x="667.2" y="370.5" width="1" height="26.4" fill="#f23645"/>
<rect x="665.7" y="370.5" width="4" height="11.3" fill="#f23645"/>
<rect x="672.8" y="370.5" width="1" height="18.2" fill="#089981"/>
<rect x="671.3" y="371.8" width="4" height="10" fill="#089981"/>
<rect x="678.4" y="367.7" width="1" height="6.2" fill="#089981"/>
<rect x="676.9" y="370.9" width="4" height="1.9" fill="#089981"/>
<rect x="684" y="369.8" width="1" height="9.2" fill="#f23645"/>
<rect x="682.5" y="371.2" width="4" height="7.8" fill="#f23645"/>
<rect x="689.6" y="373.6" width="1" height="6.5" fill="#089981"/>
<rect x="688.1" y="376.9" width="4" height="2.1" fill="#089981"/>
<rect x="695.2" y="376.6" width="1" height="12.8" fill="#f23645"/>
<rect x="693.7" y="376.6" width="4" height="4.4" fill="#f23645"/>
<rect x="700.8" y="364" width="1" height="17" fill="#089981"/>
<rect x="699.3" y="368.4" width="4" height="12.6" fill="#089981"/>
<rect x="704.9" y="355.7" width="4" height="13.1" fill="#089981"/>
<rect x="712" y="351" width="1" height="12.2" fill="#f23645"/>
<rect x="710.5" y="355.7" width="4" height="5.5" fill="#f23645"/>
<rect x="717.6" y="353.4" width="1" height="20.5" fill="#f23645"/>
<rect x="716.1" y="360.2" width="4" height="2.1" fill="#f23645"/>
<rect x="721.7" y="350.3" width="4" height="12" fill="#089981"/>
<rect x="727.3" y="350.3" width="4" height="30" fill="#f23645"/>
<rect x="734.4" y="362.3" width="1" height="18" fill="#089981"/>
<rect x="732.9" y="363.9" width="4" height="16.4" fill="#089981"/>
<rect x="740" y="354" width="1" height="11.7" fill="#089981"/>
<rect x="738.5" y="357.2" width="4" height="7.4" fill="#089981"/>
<rect x="744.1" y="348.2" width="4" height="9.7" fill="#089981"/>
<rect x="751.2" y="345.1" width="1" height="18.1" fill="#f23645"/>
<rect x="749.7" y="347.5" width="4" height="11.1" fill="#f23645"/>
<rect x="756.8" y="353.4" width="1" height="21.5" fill="#f23645"/>
<rect x="755.3" y="357.9" width="4" height="17" fill="#f23645"/>
<rect x="762.4" y="368.4" width="1" height="8.2" fill="#089981"/>
<rect x="760.9" y="371.3" width="4" height="3.7" fill="#089981"/>
<rect x="768" y="358" width="1" height="15.6" fill="#089981"/>
<rect x="766.5" y="361.2" width="4" height="10.8" fill="#089981"/>
<rect x="773.6" y="357.1" width="1" height="6.9" fill="#089981"/>
<rect x="772.1" y="357.1" width="4" height="4.7" fill="#089981"/>
<rect x="779.2" y="350.3" width="1" height="7.5" fill="#089981"/>
<rect x="777.7" y="353.3" width="4" height="4.5" fill="#089981"/>
<rect x="784.8" y="347.9" width="1" height="11.3" fill="#089981"/>
<rect x="783.3" y="349.3" width="4" height="4.8" fill="#089981"/>
<rect x="790.4" y="347.5" width="1" height="6.6" fill="#f23645"/>
<rect x="788.9" y="349.6" width="4" height="4.5" fill="#f23645"/>
<rect x="796" y="353.3" width="1" height="14.5" fill="#f23645"/>
<rect x="794.5" y="353.3" width="4" height="11.4" fill="#f23645"/>
<rect x="800.1" y="359.2" width="4" height="5.5" fill="#089981"/>
<rect x="807.2" y="355.5" width="1" height="7.5" fill="#089981"/>
<rect x="805.7" y="357.1" width="4" height="2.8" fill="#089981"/>
<rect x="812.8" y="350.3" width="1" height="7.5" fill="#089981"/>
<rect x="811.3" y="354.1" width="4" height="3.7" fill="#089981"/>
<rect x="816.9" y="347.5" width="4" height="7.3" fill="#089981"/>
<rect x="824" y="345.9" width="1" height="4.1" fill="#f23645"/>
<rect x="822.5" y="347.5" width="4" height="1.4" fill="#f23645"/>
<rect x="829.6" y="337.7" width="1" height="13.5" fill="#089981"/>
<rect x="828.1" y="338.9" width="4" height="10" fill="#089981"/>
<rect x="835.2" y="337" width="1" height="4" fill="#f23645"/>
<rect x="833.7" y="339" width="4" height="2" fill="#f23645"/>
<rect x="840.8" y="337.9" width="1" height="5.9" fill="#f23645"/>
<rect x="839.3" y="340" width="4" height="3.8" fill="#f23645"/>
<rect x="846.4" y="340.3" width="1" height="3.5" fill="#089981"/>
<rect x="844.9" y="341.6" width="4" height="2.2" fill="#089981"/>
<rect x="850.5" y="335.6" width="4" height="6.5" fill="#089981"/>
<rect x="857.6" y="324.9" width="1" height="13" fill="#089981"/>
<rect x="856.1" y="329.7" width="4" height="6.9" fill="#089981"/>
<rect x="863.2" y="323.8" width="1" height="14.8" fill="#089981"/>
<rect x="861.7" y="325.2" width="4" height="5.2" fill="#089981"/>
<rect x="868.8" y="320.4" width="1" height="15.5" fill="#f23645"/>
<rect x="867.3" y="325.2" width="4" height="7.5" fill="#f23645"/>
<rect x="874.4" y="322.9" width="1" height="10.9" fill="#089981"/>
<rect x="872.9" y="326.6" width="4" height="6.3" fill="#089981"/>
<rect x="880" y="306.8" width="1" height="20.5" fill="#089981"/>
<rect x="878.5" y="311.9" width="4" height="15.4" fill="#089981"/>
<rect x="885.6" y="295" width="1" height="19" fill="#089981"/>
<rect x="884.1" y="302.9" width="4" height="9.7" fill="#089981"/>
<rect x="891.2" y="298.7" width="1" height="8.6" fill="#f23645"/>
<rect x="889.7" y="303.1" width="4" height="1.8" fill="#f23645"/>
<rect x="896.8" y="284" width="1" height="20.2" fill="#089981"/>
<rect x="895.3" y="300.8" width="4" height="3.4" fill="#089981"/>
<rect x="902.4" y="287.1" width="1" height="14.1" fill="#089981"/>
<rect x="900.9" y="294.3" width="4" height="6.9" fill="#089981"/>
<rect x="908" y="287.1" width="1" height="15.7" fill="#f23645"/>
<rect x="906.5" y="294.3" width="4" height="8.5" fill="#f23645"/>
<rect x="913.6" y="301.8" width="1" height="9.2" fill="#f23645"/>
<rect x="912.1" y="301.8" width="4" height="4.7" fill="#f23645"/>
<rect x="919.2" y="292.1" width="1" height="14.5" fill="#089981"/>
<rect x="917.7" y="298" width="4" height="8.6" fill="#089981"/>
<rect x="924.8" y="296" width="1" height="23" fill="#f23645"/>
<rect x="923.3" y="298" width="4" height="17.5" fill="#f23645"/>
<rect x="928.9" y="302.5" width="4" height="13" fill="#089981"/>
<rect x="936" y="302.5" width="1" height="17.4" fill="#f23645"/>
<rect x="934.5" y="302.5" width="4" height="10.6" fill="#f23645"/>
<rect x="941.6" y="295" width="1" height="19.7" fill="#089981"/>
<rect x="940.1" y="295" width="4" height="18.1" fill="#089981"/>
<rect x="947.2" y="266.1" width="1" height="29.9" fill="#089981"/>
<rect x="945.7" y="267.5" width="4" height="28.5" fill="#089981"/>
<rect x="952.8" y="255.8" width="1" height="12.8" fill="#089981"/>
<rect x="951.3" y="261.7" width="4" height="6.9" fill="#089981"/>
<rect x="958.4" y="259.4" width="1" height="9.6" fill="#089981"/>
<rect x="956.9" y="260.8" width="4" height="1.9" fill="#089981"/>
<rect x="964" y="238.4" width="1" height="26.5" fill="#089981"/>
<rect x="962.5" y="238.4" width="4" height="23.6" fill="#089981"/>
<rect x="968.1" y="215.9" width="4" height="23.3" fill="#089981"/>
<rect x="975.2" y="216.2" width="1" height="13.7" fill="#f23645"/>
<rect x="973.7" y="216.2" width="4" height="1.7" fill="#f23645"/>
<rect x="980.8" y="206.6" width="1" height="17.1" fill="#f23645"/>
<rect x="979.3" y="217.1" width="4" height="1" fill="#f23645"/>
<rect x="986.4" y="215.9" width="1" height="13" fill="#f23645"/>
<rect x="984.9" y="216.8" width="4" height="1.1" fill="#f23645"/>
<rect x="992" y="217.8" width="1" height="29.9" fill="#f23645"/>
<rect x="990.5" y="217.8" width="4" height="14.8" fill="#f23645"/>
<rect x="997.6" y="223" width="1" height="9.6" fill="#089981"/>
<rect x="996.1" y="226.8" width="4" height="5.8" fill="#089981"/>
<rect x="1003.2" y="220.3" width="1" height="23.5" fill="#089981"/>
<rect x="1001.7" y="221.4" width="4" height="5.7" fill="#089981"/>
<rect x="1008.8" y="216.8" width="1" height="15.1" fill="#f23645"/>
<rect x="1007.3" y="221" width="4" height="1.6" fill="#f23645"/>
<rect x="1012.9" y="204.1" width="4" height="18.9" fill="#089981"/>
<rect x="1018.5" y="184" width="4" height="20.8" fill="#089981"/>
<rect x="1025.6" y="170.7" width="1" height="26" fill="#f23645"/>
<rect x="1024.1" y="184" width="4" height="12.7" fill="#f23645"/>
<rect x="1031.2" y="176.2" width="1" height="27.6" fill="#089981"/>
<rect x="1029.7" y="183" width="4" height="13.7" fill="#089981"/>
<rect x="1035.3" y="111.8" width="4" height="71.5" fill="#089981"/>
<rect x="1042.4" y="111" width="1" height="34.1" fill="#f23645"/>
<rect x="1040.9" y="111" width="4" height="29.1" fill="#f23645"/>
<rect x="1048" y="113" width="1" height="27.1" fill="#089981"/>
<rect x="1046.5" y="128.9" width="4" height="11.2" fill="#089981"/>
<rect x="1053.6" y="70.9" width="1" height="63.9" fill="#089981"/>
<rect x="1052.1" y="70.9" width="4" height="58.7" fill="#089981"/>
<rect x="1059.2" y="69.5" width="1" height="20.2" fill="#f23645"/>
<rect x="1057.7" y="70.9" width="4" height="18.8" fill="#f23645"/>
<rect x="1064.8" y="88.7" width="1" height="11.9" fill="#f23645"/>
<rect x="1063.3" y="88.7" width="4" height="3.6" fill="#f23645"/>
<rect x="1070.4" y="68.3" width="1" height="24" fill="#089981"/>
<rect x="1068.9" y="83.3" width="4" height="9" fill="#089981"/>
<rect x="1076" y="83.3" width="1" height="10.3" fill="#f23645"/>
<rect x="1074.5" y="83.3" width="4" height="6.4" fill="#f23645"/>
<rect x="1081.6" y="74.8" width="1" height="15.3" fill="#089981"/>
<rect x="1080.1" y="79.8" width="4" height="10.3" fill="#089981"/>
<rect x="1087.2" y="79.8" width="1" height="26.7" fill="#f23645"/>
<rect x="1085.7" y="79.8" width="4" height="21.8" fill="#f23645"/>
<rect x="1091.3" y="100.6" width="4" height="37.2" fill="#f23645"/>
<rect x="1098.4" y="124.3" width="1" height="29.1" fill="#f23645"/>
<rect x="1096.9" y="137.2" width="4" height="8.3" fill="#f23645"/>
<rect x="1104" y="145.1" width="1" height="18.8" fill="#f23645"/>
<rect x="1102.5" y="145.1" width="4" height="2.6" fill="#f23645"/>
<rect x="1109.6" y="135.8" width="1" height="21.2" fill="#089981"/>
<rect x="1108.1" y="137.2" width="4" height="10.5" fill="#089981"/>
<rect x="1115.2" y="128.9" width="1" height="20.7" fill="#089981"/>
<rect x="1113.7" y="132.2" width="4" height="5.6" fill="#089981"/>
<rect x="1120.8" y="119" width="1" height="17.2" fill="#089981"/>
<rect x="1119.3" y="122.3" width="4" height="10.5" fill="#089981"/>
<rect x="1126.4" y="115.4" width="1" height="20.8" fill="#f23645"/>
<rect x="1124.9" y="122.3" width="4" height="2" fill="#f23645"/>
<rect x="1132" y="121.3" width="1" height="37" fill="#f23645"/>
<rect x="1130.5" y="123.7" width="4" height="18.4" fill="#f23645"/>
<rect x="1137.6" y="141.7" width="1" height="39.4" fill="#f23645"/>
<rect x="1136.1" y="141.7" width="4" height="33.1" fill="#f23645"/>
<rect x="1143.2" y="152" width="1" height="24.7" fill="#089981"/>
<rect x="1141.7" y="153.6" width="4" height="21.8" fill="#089981"/>
<rect x="1148.8" y="141.5" width="1" height="12.5" fill="#089981"/>
<rect x="1147.3" y="143.5" width="4" height="10.5" fill="#089981"/>
<rect x="1152.9" y="142.8" width="4" height="1" fill="#089981"/>
<rect x="1213" y="135.9" width="35" height="15.4" rx="1.8" fill="#089981"/>
<rect x="1213" y="447.5" width="54.2" height="15.6" rx="1.8" fill="#22ab94"/>
<g transform="translate(9.8,633.76) scale(0.51)" fill="#d1d4dc"><path d="M14 22H7V11H0V4h14v18zM28 22h-8l7.5-18h8L28 22z"/><circle cx="20" cy="8" r="4"/></g>
</svg>
<div id="paxis">
<div class="pl" style="top:-6.69px">3.80</div>
<div class="pl" style="top:32.35px">3.70</div>
<div class="pl" style="top:71.39px">3.60</div>
<div class="pl" style="top:110.43px">3.50</div>
<div class="pl" style="top:149.47px">3.40</div>
<div class="pl" style="top:188.51px">3.30</div>
<div class="pl" style="top:227.55px">3.20</div>
<div class="pl" style="top:266.59px">3.10</div>
<div class="pl" style="top:305.63px">3.00</div>
<div class="pl" style="top:344.67px">2.90</div>
<div class="pl" style="top:383.71px">2.80</div>
<div class="pl" style="top:422.75px">2.70</div>
<div class="pl" style="top:461.79px">2.60</div>
<div class="pl" style="top:500.83px">2.50</div>
<div class="pl" style="top:539.87px">2.40</div>
<div class="pl" style="top:578.91px">2.30</div>
</div>
<div class="tag" style="top:135.9px;width:35px;">3.46</div>
<div class="tag" style="top:447.5px;width:54.2px;"><span style="letter-spacing:-0.16px">22.836&#8201;B</span></div>
<div class="tl" style="left:76.2px">11</div>
<div class="tl" style="left:210.6px">12</div>
<div class="tl" style="left:345px">13</div>
<div class="tl" style="left:479.4px">14</div>
<div class="tl" style="left:613.8px">15</div>
<div class="tl" style="left:748.2px">16</div>
<div class="tl" style="left:882.6px">17</div>
<div class="tl" style="left:1017px">18</div>
<div class="tl" style="left:1151.4px">19</div>
<div class="lg" style="top:17.6px">
<span style="left:0;transform:scaleX(0.894)">XRP/USD, 1h, CoinMarketCap</span>
<span class="k" style="left:153.3px">O</span><span class="v n" style="left:161.1px">3.46</span>
<span class="k" style="left:189.9px">H</span><span class="v n" style="left:196.8px">3.46</span>
<span class="k" style="left:226px">L</span><span class="v n" style="left:231.5px">3.46</span>
<span class="k" style="left:259.6px">C</span><span class="v n" style="left:266.2px">3.46</span>
<span class="v" style="left:294.9px;transform:scaleX(0.877)">+0.00 (+0.02%)</span>
</div>
<div class="lg" style="top:33px">
<span style="left:0.5px;transform:scaleX(0.886)">Volume</span><span class="v2" style="left:44.3px;transform:scaleX(0.862)">22.836&#8201;B</span>
</div>
<div id="logot">TradingView</div>
</body></html>
